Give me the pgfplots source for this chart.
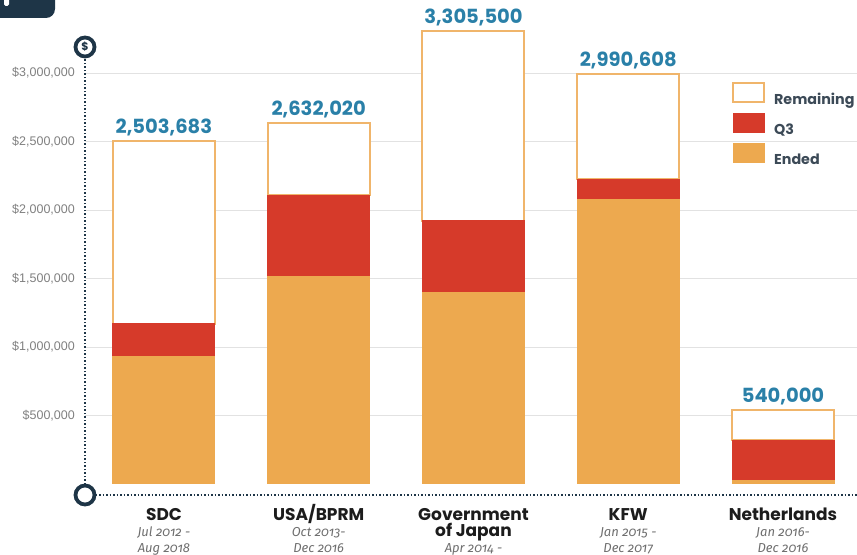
\documentclass[border=0pt]{standalone}
\usepackage{pgfplots}
\usepackage{pgfplotstable}
\pgfplotsset{compat=1.18}
\usepackage{fontspec}
\setmainfont{Liberation Sans}
\newfontfamily\popfont{Poppins}
\newfontfamily\subfontfam{Fira Sans}[Numbers=OldStyle]
\definecolor{ended}{HTML}{EDA94F}
\definecolor{qthree}{HTML}{D63A2A}
\definecolor{remborder}{HTML}{F0B56B}
\definecolor{valblue}{HTML}{2A80A8}
\definecolor{navy}{HTML}{1E3547}
\definecolor{gridc}{HTML}{E2E2E2}
\definecolor{tickgray}{HTML}{808080}
\definecolor{legtext}{HTML}{3C4A57}
\definecolor{subgray}{HTML}{6E6E6E}
\definecolor{catblack}{HTML}{1C1C1C}
\newcommand\catfont{\popfont\bfseries\fontsize{17bp}{17bp}\selectfont\color{catblack}}
\newcommand\subfont{\subfontfam\itshape\fontsize{13bp}{16bp}\selectfont\color{subgray}}

% values in millions of dollars
\pgfplotstableread{
x ended
0 0.927
1 1.518
2 1.401
3 2.080
4 0.022
}\endedtable
\pgfplotstableread{
x q
0 0.241
1 0.591
2 0.519
3 0.146
4 0.299
}\qtable
\pgfplotstableread{
x rem label
0 1.335683 2,503,683
1 0.523020 2,632,020
2 1.385500 3,305,500
3 0.764608 2,990,608
4 0.219000 540,000
}\remtable

\begin{document}
\begin{tikzpicture}
\useasboundingbox (0,0) rectangle (857bp,555bp);
\clip (0,0) rectangle (857bp,555bp);
\fill[navy, rounded corners=9bp] (-20bp,537bp) rectangle (55bp,580bp);
\fill[white, rounded corners=1.5bp] (4bp,549bp) rectangle (9bp,560bp);
\begin{axis}[
  at={(85bp,60bp)}, anchor=south west,
  scale only axis, width=772bp, height=448bp,
  xmin=-0.51, xmax=4.478,
  ymin=-0.0803, ymax=3.1898,
  clip=false,
  ybar stacked, bar width=102bp,
  axis x line*=bottom, axis y line*=left,
  axis line style={navy, line width=2bp, dash pattern=on 1.6bp off 1.9bp},
  major tick length=0pt,
  scaled y ticks=false,
  xtick={0,1,2,3,4},
  xticklabels={
    {{\catfont SDC}\\{\subfont Jul 2012 -}\\{\subfont Aug 2018}},
    {{\catfont USA\smash{/}BPRM}\\{\subfont Oct 2013-}\\{\subfont Dec 2016}},
    {{\catfont Government}\\{\catfont of Japan}\\{\subfont Apr 2014 -}},
    {{\catfont KFW}\\{\subfont Jan 2015 -}\\{\subfont Dec 2017}},
    {{\catfont Netherlands}\\{\subfont Jan 2016-}\\{\subfont Dec 2016}}
  },
  xticklabel style={align=center, anchor=north, inner sep=0pt, yshift=-13bp,
    font=\fontsize{13bp}{16bp}\selectfont},
  ytick={0.5,1,1.5,2,2.5,3},
  yticklabels={{\$500,000},{\$1,000,000},{\$1,500,000},{\$2,000,000},{\$2,500,000},{\$3,000,000}},
  yticklabel style={font=\fontsize{12.5bp}{12.5bp}\selectfont, text=tickgray, anchor=east, inner sep=0pt, xshift=-10bp},
  ymajorgrids, grid style={gridc, line width=0.9bp},
  legend cell align=left,
  legend style={at={(0.838,0.922)}, anchor=north west, draw=none, fill=none,
    inner sep=0pt, row sep=8bp,
    font=\popfont\bfseries\fontsize{14.3bp}{14.3bp}\selectfont, text=legtext,
    /tikz/every odd column/.append style={column sep=9bp},
    nodes={inner sep=0pt}},
  legend image code/.code={\draw[#1] (0bp,-3bp) rectangle (31bp,16bp);},
  reverse legend,
]
\addplot[fill=ended, draw=ended, line width=0pt] table[x=x, y=ended] \endedtable;
\addlegendentry{Ended}
\addplot[fill=qthree, draw=qthree, line width=0pt] table[x=x, y=q] \qtable;
\addlegendentry{Q3}
\addplot[fill=white, draw=remborder, line width=2bp,
  visualization depends on={\thisrow{rem} \as \segh},
  nodes near coords, point meta=explicit symbolic,
  nodes near coords style={font=\popfont\bfseries\fontsize{19.5bp}{19.5bp}\selectfont,
    text=valblue, anchor=south, inner sep=0pt, yshift={\segh*68.5bp+4bp}}]
  table[x=x, y=rem, meta=label] \remtable;
\addlegendentry{Remaining}
\end{axis}
\draw[navy, line width=3.8bp, fill=white] (85bp,60bp) circle[radius=9.5bp];
\draw[navy, line width=3.8bp, fill=white] (85bp,508bp) circle[radius=9.5bp];
\node[text=navy, font=\popfont\bfseries\fontsize{11bp}{11bp}\selectfont, inner sep=0pt] at (85bp,508bp) {\$};
\end{tikzpicture}
\end{document}
